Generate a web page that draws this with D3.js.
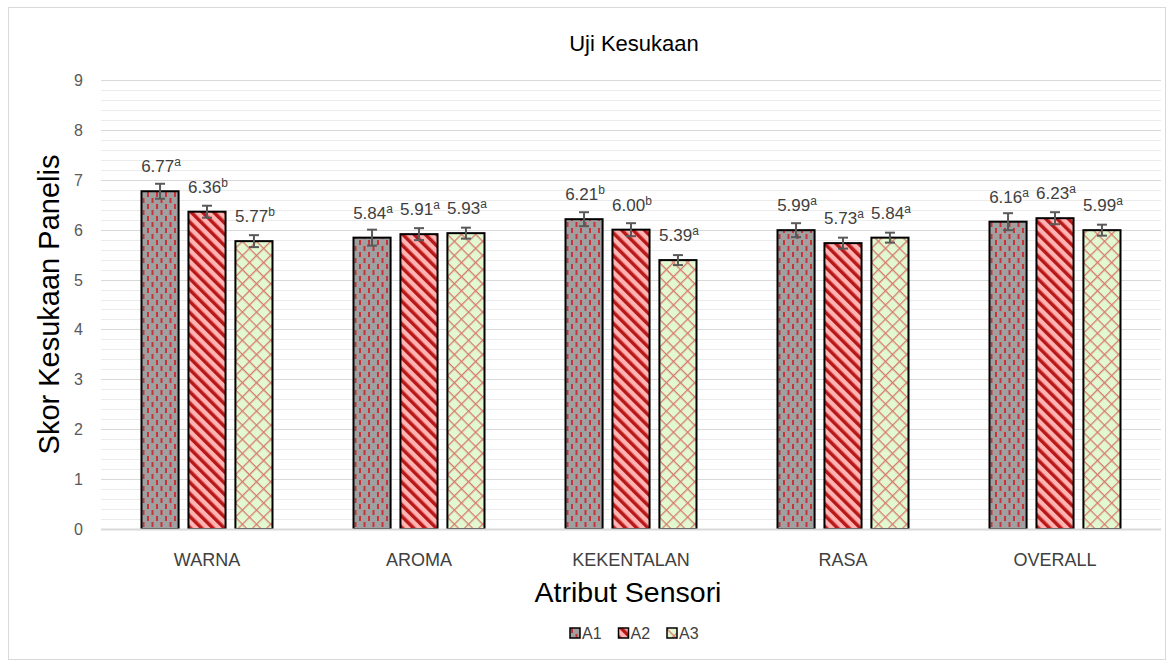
<!DOCTYPE html>
<html>
<head>
<meta charset="utf-8">
<script src="https://cdn.jsdelivr.net/npm/d3@7"></script>
<style>
  body { margin: 0; background: #fff; }
  text { font-family: "Liberation Sans", Arial, sans-serif; }
</style>
</head>
<body>
<div id="chart"></div>
<script>
// data
var categories = ["WARNA", "AROMA", "KEKENTALAN", "RASA", "OVERALL"]
var seriesNames = ["A1", "A2", "A3"]
var a1 = [6.77, 5.84, 6.21, 5.99, 6.16]
var a2 = [6.36, 5.91, 6.00, 5.73, 6.23]
var a3 = [5.77, 5.93, 5.39, 5.84, 5.99]
var a1Err = [0.15, 0.16, 0.14, 0.14, 0.17]
var a2Err = [0.12, 0.12, 0.13, 0.11, 0.12]
var a3Err = [0.12, 0.11, 0.10, 0.10, 0.11]
var a1Sig = ["a", "a", "b", "a", "a"]
var a2Sig = ["b", "a", "b", "a", "a"]
var a3Sig = ["b", "a", "a", "a", "a"]
var yTicks = [0, 1, 2, 3, 4, 5, 6, 7, 8, 9]

var width = 1174, height = 666
var plotLeft = 101, plotRight = 1161, plotTop = 80, plotBottom = 529

var svg = d3.select("#chart").append("svg")
    .attr("width", width)
    .attr("height", height)

// patterns
var defs = svg.append("defs")
var p1 = defs.append("pattern").attr("id", "pA1").attr("patternUnits", "userSpaceOnUse")
    .attr("width", 9).attr("height", 12)
p1.append("rect").attr("width", 9).attr("height", 12).attr("fill", "#a0a0a0")
p1.append("rect").attr("x", 1).attr("y", 0).attr("width", 2).attr("height", 5).attr("fill", "#c8323a")
p1.append("rect").attr("x", 5.5).attr("y", 6).attr("width", 2).attr("height", 5).attr("fill", "#c8323a")

var p2 = defs.append("pattern").attr("id", "pA2").attr("patternUnits", "userSpaceOnUse")
    .attr("width", 8).attr("height", 8).attr("patternTransform", "rotate(-45)")
p2.append("rect").attr("width", 8).attr("height", 8).attr("fill", "#ffb3b3")
p2.append("rect").attr("x", 0).attr("y", 0).attr("width", 3.5).attr("height", 8).attr("fill", "#b81818")

var p3 = defs.append("pattern").attr("id", "pA3").attr("patternUnits", "userSpaceOnUse")
    .attr("width", 10).attr("height", 10).attr("patternTransform", "rotate(45)")
p3.append("rect").attr("width", 10).attr("height", 10).attr("fill", "#e2f8d0")
p3.append("rect").attr("x", 0).attr("y", 0).attr("width", 1.3).attr("height", 10).attr("fill", "#d77a6e")
p3.append("rect").attr("x", 0).attr("y", 0).attr("width", 10).attr("height", 1.3).attr("fill", "#d77a6e")

var fills = ["url(#pA1)", "url(#pA2)", "url(#pA3)"]

// chart border
svg.append("rect").attr("x", 8.5).attr("y", 7.5).attr("width", 1157).attr("height", 652)
    .attr("fill", "none").attr("stroke", "#d9d9d9")

/* Scales */
var x0 = d3.scaleBand().domain(categories).range([plotLeft, plotRight])
var bw = x0.bandwidth()
var x1 = d3.scaleBand().domain(seriesNames)
    .range([bw / 2 - 65.5, bw / 2 + 65.5]).paddingInner(0.21)
var y = d3.scaleLinear().domain([0, 9]).range([plotBottom, plotTop])

// gridlines
var minor = d3.range(0, 9.01, 0.2).filter(v => Math.abs(v - Math.round(v)) > 0.01)
svg.append("g").selectAll("line").data(minor).enter().append("line")
    .attr("x1", plotLeft).attr("x2", plotRight)
    .attr("y1", d => Math.round(y(d)) + 0.5).attr("y2", d => Math.round(y(d)) + 0.5)
    .attr("stroke", "#ebebeb")
svg.append("g").selectAll("line").data(yTicks.slice(1)).enter().append("line")
    .attr("x1", plotLeft).attr("x2", plotRight)
    .attr("y1", d => Math.round(y(d)) + 0.5).attr("y2", d => Math.round(y(d)) + 0.5)
    .attr("stroke", "#d9d9d9")

// y tick labels
svg.append("g").selectAll("text").data(yTicks).enter().append("text")
    .attr("x", 83).attr("y", d => y(d) + 6)
    .attr("text-anchor", "end")
    .style("font-size", "16px").style("fill", "#595959")
    .text(d => d)

var series = [
    { name: "A1", vals: a1, err: a1Err, sig: a1Sig },
    { name: "A2", vals: a2, err: a2Err, sig: a2Sig },
    { name: "A3", vals: a3, err: a3Err, sig: a3Sig }
]

var groups = svg.append("g").selectAll("g").data(categories).enter().append("g")
    .attr("transform", d => `translate(${x0(d)},0)`)

groups.each(function (cat, ci) {
    var g = d3.select(this)
    series.forEach((s, si) => {
        var v = s.vals[ci], e = s.err[ci]
        var bx = x1(s.name), cx = bx + x1.bandwidth() / 2
        g.append("rect")
            .attr("x", bx).attr("y", y(v))
            .attr("width", x1.bandwidth()).attr("height", y(0) - y(v))
            .attr("fill", fills[si]).attr("stroke", "#000").attr("stroke-width", 2)
        // error bar
        var eb = g.append("g").attr("stroke", "#595959").attr("stroke-width", 2)
        eb.append("line").attr("x1", cx).attr("x2", cx).attr("y1", y(v + e)).attr("y2", y(v - e))
        eb.append("line").attr("x1", cx - 5).attr("x2", cx + 5).attr("y1", y(v + e)).attr("y2", y(v + e))
        eb.append("line").attr("x1", cx - 5).attr("x2", cx + 5).attr("y1", y(v - e)).attr("y2", y(v - e))
        // label
        var t = g.append("text").attr("x", cx + 1).attr("y", y(v) - 19)
            .attr("text-anchor", "middle")
            .style("font-size", "17px").style("fill", "#404040")
        t.append("tspan").text(v.toFixed(2))
        t.append("tspan").attr("dy", -6).style("font-size", "12px").text(s.sig[ci])
    })
})

// zero axis line
svg.append("line").attr("x1", plotLeft).attr("x2", plotRight)
    .attr("y1", plotBottom + 0.5).attr("y2", plotBottom + 0.5)
    .attr("stroke", "#d9d9d9").attr("stroke-width", 2)

// category labels
svg.append("g").selectAll("text").data(categories).enter().append("text")
    .attr("x", d => x0(d) + bw / 2).attr("y", 566)
    .attr("text-anchor", "middle")
    .style("font-size", "18px").style("fill", "#404040")
    .text(d => d)

// titles
svg.append("text").attr("x", 634).attr("y", 51).attr("text-anchor", "middle")
    .style("font-size", "22px").style("fill", "#000").text("Uji Kesukaan")
svg.append("text").attr("x", 628).attr("y", 602).attr("text-anchor", "middle")
    .style("font-size", "28.5px").style("fill", "#000").text("Atribut Sensori")
svg.append("text").attr("transform", `translate(59,${(plotTop + plotBottom) / 2}) rotate(-90)`)
    .attr("text-anchor", "middle")
    .style("font-size", "29px").style("fill", "#000").text("Skor Kesukaan Panelis")

// legend
var legend = svg.append("g").selectAll("g").data(seriesNames).enter().append("g")
    .attr("transform", (d, i) => `translate(${570 + i * 48.5},628)`)
legend.append("rect").attr("width", 10).attr("height", 10)
    .attr("fill", (d, i) => fills[i]).attr("stroke", "#000").attr("stroke-width", 1.5)
legend.append("text").attr("x", 12).attr("y", 11)
    .style("font-size", "16px").style("fill", "#404040")
    .text(d => d)
</script>
</body>
</html>
